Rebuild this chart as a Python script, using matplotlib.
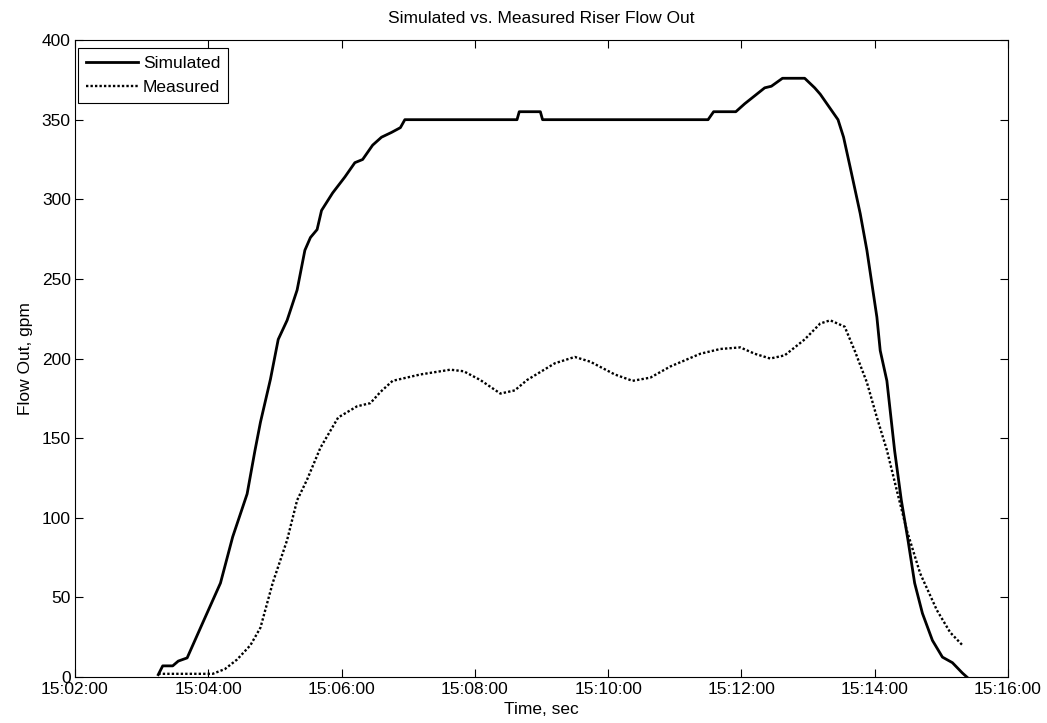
import numpy as np
import pandas as pd
import matplotlib
matplotlib.use("Agg")
import matplotlib.pyplot as plt
import matplotlib.dates as mdates

plt.rcParams['font.family'] = ['Liberation Sans', 'DejaVu Sans']

# seconds after 15:02:00
sim_t = [75, 79, 88, 93, 101, 115, 131, 142, 155, 162, 167, 176, 183, 191, 200, 207,
         212, 218, 222, 232, 243, 252, 259, 268, 276, 285, 293, 297, 398, 400, 419,
         421, 570, 575, 595, 603, 612, 621, 627, 637, 657, 666, 671, 675, 687, 692,
         698, 707, 713, 722, 725, 731, 738, 744, 750, 756, 763, 772, 781, 790, 799, 803]
sim_q = [1.5, 7, 7, 10, 12, 34, 59, 88, 115, 142, 160, 187, 212, 224, 243, 268,
         276, 281, 293, 304, 314, 323, 325, 334, 339, 342, 345, 350, 350, 355, 355,
         350, 350, 355, 355, 360, 365, 370, 371, 376, 376, 370, 366, 362, 350, 339,
         320, 291, 268, 226, 205, 186, 142, 111, 86, 59, 40, 23, 12.5, 9, 2.5, 0]

meas_t = [75, 124, 135, 146, 158, 167, 178, 191, 200, 209, 221, 237, 254, 266, 275,
          286, 311, 338, 350, 365, 383, 396, 407, 432, 450, 464, 486, 502, 518, 536,
          563, 581, 599, 612, 626, 639, 657, 671, 680, 693, 702, 713, 722, 731, 740,
          749, 761, 776, 788, 799]
meas_q = [2, 2, 5, 11, 20, 31, 59, 86, 111, 124, 144, 163, 170, 172, 179,
          186, 190, 193, 192, 186.5, 178, 180, 186.5, 197, 201, 198, 190, 186, 188, 195,
          203, 206, 207, 203, 200, 202, 212, 222, 224, 220, 205, 185, 163, 142.5, 117,
          92, 65, 42, 28, 20]

base = pd.Timestamp("2000-01-01 15:02:00")
sim_x = base + pd.to_timedelta(sim_t, unit="s")
meas_x = base + pd.to_timedelta(meas_t, unit="s")

fig = plt.figure(figsize=(10.47, 7.23), dpi=100)
ax = fig.add_axes([0.0716, 0.0636, 0.8911, 0.881])

ax.plot(sim_x, sim_q, color="black", lw=2.0, label="Simulated")
ax.plot(meas_x, meas_q, color="black", lw=1.7, linestyle=(0, (1, 0.9)), label="Measured")

ax.set_xlim(base, base + pd.Timedelta(minutes=14))
ax.set_ylim(0, 400)
ax.xaxis.set_major_locator(mdates.MinuteLocator(byminute=range(0, 60, 2)))
ax.xaxis.set_major_formatter(mdates.DateFormatter("%H:%M:%S"))
ax.set_yticks(np.arange(0, 401, 50))

ax.tick_params(direction="in", top=True, right=True, length=6, labelsize=12.5)
ax.tick_params(axis="y", pad=3)
for s in ax.spines.values():
    s.set_linewidth(0.8)

ax.set_title("Simulated vs. Measured Riser Flow Out", fontsize=12.5, pad=12)
ax.set_xlabel("Time, sec", fontsize=12.5, labelpad=4)
ax.set_ylabel("Flow Out, gpm", fontsize=12.5, labelpad=6)

leg = ax.legend(loc="upper left", bbox_to_anchor=(0.003, 0.987), borderaxespad=0,
                fontsize=12.5, fancybox=False, edgecolor="black", framealpha=1,
                handlelength=3.0, handletextpad=0.3, borderpad=0.45,
                labelspacing=0.5)
leg.get_frame().set_linewidth(0.8)

fig.savefig("out.png", dpi=100)
